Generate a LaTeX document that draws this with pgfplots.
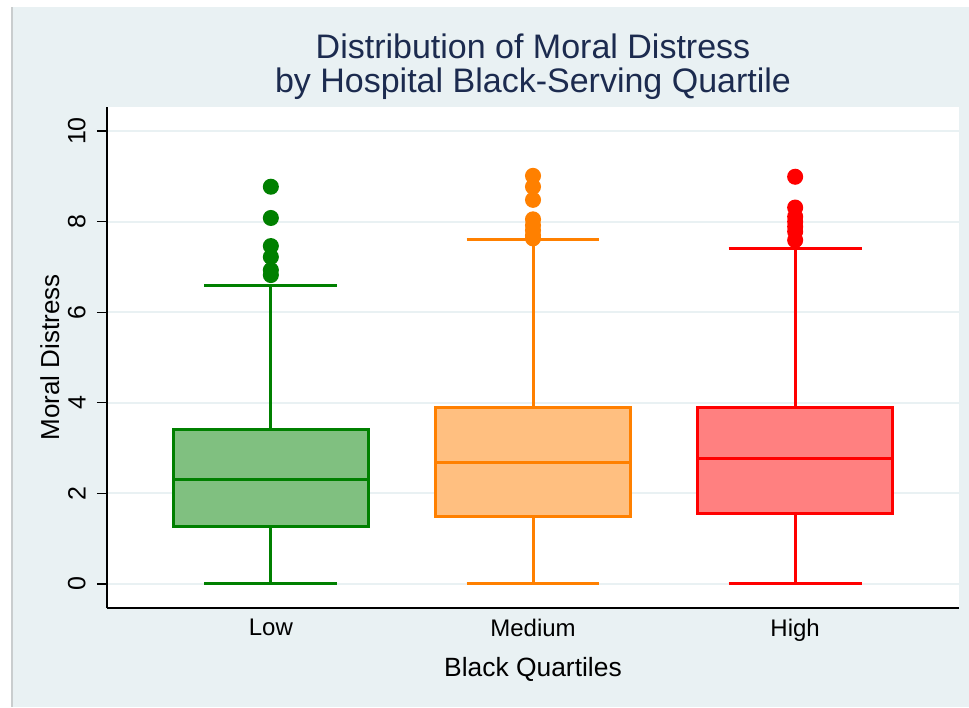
\documentclass[border=0pt]{standalone}
\usepackage{pgfplots}
\pgfplotsset{compat=1.18}
\usepgfplotslibrary{statistics}
\usepackage{fontspec}
\setmainfont{Liberation Sans}
\definecolor{bgc}{HTML}{E9F1F3}
\definecolor{gridc}{HTML}{E9F1F3}
\definecolor{edgec}{HTML}{C9CDCE}
\definecolor{titlec}{HTML}{1C2B4F}
\definecolor{lowc}{HTML}{008000}
\definecolor{lowf}{HTML}{80C080}
\definecolor{medc}{HTML}{FF8000}
\definecolor{medf}{HTML}{FFBF80}
\definecolor{highc}{HTML}{FF0000}
\definecolor{highf}{HTML}{FF8080}
\begin{document}
\begin{tikzpicture}
\useasboundingbox (0,0) rectangle (484.5pt,353.5pt);
\fill[white] (0,0) rectangle (484.5pt,353.5pt);
\fill[bgc] (6pt,0) rectangle (484.5pt,350pt);
\draw[edgec, line width=0.6pt] (6pt,0) -- (6pt,350pt);
\begin{axis}[
  at={(53.5pt,49.5pt)}, anchor=south west,
  scale only axis, width=426pt, height=250.5pt,
  xmin=0.375, xmax=3.625, ymin=-0.53, ymax=10.53,
  axis background/.style={fill=white},
  axis x line*=bottom, axis y line*=left,
  axis line style={-, black, line width=0.7pt},
  /pgf/number format/assume math mode=true,
  xtick={1,2,3}, xticklabels={Low,Medium,High},
  xtick style={draw=none},
  ytick={0,2,4,6,8,10},
  ymajorgrids, grid style={gridc, line width=0.9pt},
  tick align=outside, major tick length=5pt,
  ytick style={black, line width=0.6pt},
  yticklabel style={xshift=-5.5pt, rotate=90, anchor=south, inner sep=0pt, font=\fontsize{12.5}{14}\selectfont},
  xticklabel style={yshift=3pt, font=\fontsize{12}{14}\selectfont},
  xlabel={Black Quartiles}, ylabel={Moral Distress},
  xlabel style={at={(axis description cs:0.5,-0.122)}, anchor=center, font=\fontsize{13.2}{15}\selectfont},
  ylabel style={at={(axis description cs:-0.067,0.5)}, anchor=center, font=\fontsize{13}{15}\selectfont},
  title={Distribution of Moral Distress\\by Hospital Black-Serving Quartile},
  title style={at={(axis description cs:0.5,1)}, anchor=south, inner sep=0pt, yshift=-2.5pt, align=center, text=titlec, font=\fontsize{17}{17}\selectfont},
  boxplot/draw direction=y,
]
\addplot[boxplot prepared={draw position=1, median=2.30, upper quartile=3.42, lower quartile=1.26, upper whisker=6.60, lower whisker=0, box extend=0.745, whisker extend=0.507},
  draw=lowc, fill=lowf, line width=1.5pt, solid, mark=*, mark size=3.25pt, mark options={fill=lowc, draw=none}]
  coordinates {(1,8.77) (1,8.08) (1,7.46) (1,7.22) (1,6.93) (1,6.82)};
\addplot[boxplot prepared={draw position=2, median=2.69, upper quartile=3.89, lower quartile=1.48, upper whisker=7.61, lower whisker=0, box extend=0.745, whisker extend=0.507},
  draw=medc, fill=medf, line width=1.5pt, solid, mark=*, mark size=3.25pt, mark options={fill=medc, draw=none}]
  coordinates {(2,9.01) (2,8.77) (2,8.48) (2,8.05) (2,7.92) (2,7.81) (2,7.70) (2,7.63)};
\addplot[boxplot prepared={draw position=3, median=2.76, upper quartile=3.89, lower quartile=1.55, upper whisker=7.41, lower whisker=0, box extend=0.745, whisker extend=0.507},
  draw=highc, fill=highf, line width=1.5pt, solid, mark=*, mark size=3.25pt, mark options={fill=highc, draw=none}]
  coordinates {(3,8.99) (3,8.31) (3,8.11) (3,8.00) (3,7.89) (3,7.78) (3,7.59)};
\end{axis}
\end{tikzpicture}
\end{document}
